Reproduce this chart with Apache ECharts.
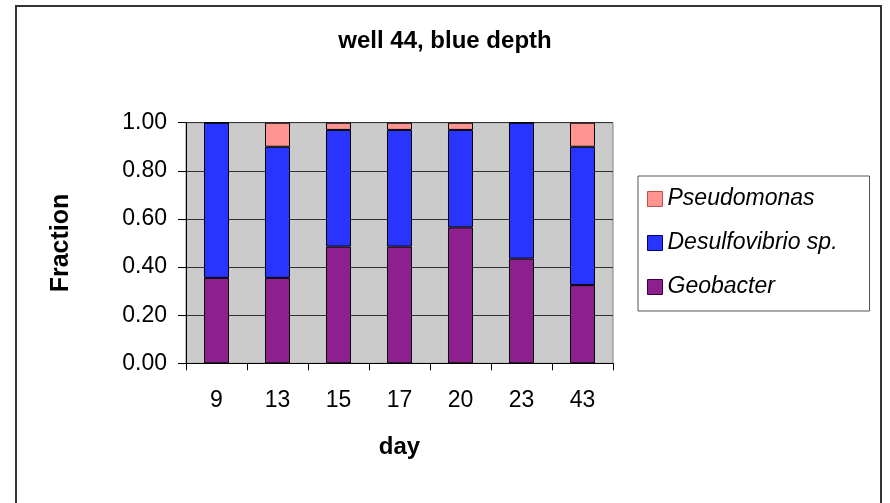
<!DOCTYPE html>
<html>
<head>
<meta charset="utf-8">
<script src="https://cdn.jsdelivr.net/npm/echarts@6/dist/echarts.min.js"></script>
<style>
html,body{margin:0;padding:0;background:#fff;}
#chart{width:890px;height:503px;}
</style>
</head>
<body>
<div id="chart"></div>
<script>
var days = ['9', '13', '15', '17', '20', '23', '43'];
var geobacter = [0.355, 0.355, 0.485, 0.485, 0.565, 0.435, 0.325];
var desulfovibrio = [0.645, 0.545, 0.485, 0.485, 0.405, 0.565, 0.575];
var pseudomonas = [0, 0.10, 0.03, 0.03, 0.03, 0, 0.10];
var yTicks = [0, 0.2, 0.4, 0.6, 0.8, 1.0];

var FONT = "'Liberation Sans', Arial, sans-serif";
var chart = echarts.init(document.getElementById('chart'));

var option = {
  animation: false,
  backgroundColor: '#ffffff',
  title: {
    text: 'well 44, blue depth',
    left: 'center',
    top: 29,
    padding: 0,
    textStyle: { fontFamily: FONT, fontSize: 24, fontWeight: 'bold', color: '#000' }
  },
  graphic: [{
    type: 'rect',
    shape: { x: 16, y: 6, width: 865, height: 540 },
    style: { fill: null, stroke: '#333', lineWidth: 2 },
    silent: true,
    z: 100
  }],
  legend: {
    orient: 'vertical',
    left: 638,
    top: 176,
    padding: [11, 32, 12, 9],
    icon: 'rect',
    itemWidth: 15,
    itemHeight: 15,
    itemGap: 20,
    borderColor: '#555',
    borderWidth: 1,
    backgroundColor: '#fff',
    textStyle: { fontFamily: FONT, fontSize: 23, fontStyle: 'italic', color: '#000', lineHeight: 24 },
    data: [
      { name: 'Pseudomonas', itemStyle: { borderColor: '#c0504d', borderWidth: 1 } },
      { name: 'Desulfovibrio sp.', itemStyle: { borderColor: '#000080', borderWidth: 1 } },
      { name: 'Geobacter', itemStyle: { borderColor: '#3a0040', borderWidth: 1 } }
    ]
  },
  grid: {
    left: 186, right: 277, top: 122.7, bottom: 139.7,
    show: true, backgroundColor: '#cbcbcb', borderColor: '#808080', borderWidth: 1
  },
  xAxis: {
    type: 'category',
    data: days,
    name: 'day',
    nameLocation: 'middle',
    nameGap: 72,
    nameTextStyle: { fontFamily: FONT, fontSize: 24, fontWeight: 'bold', color: '#000', verticalAlign: 'top' },
    axisLine: { lineStyle: { color: '#000', width: 1 } },
    axisTick: { show: true, length: 7, lineStyle: { color: '#000' } },
    axisLabel: { fontFamily: FONT, fontSize: 23, color: '#000', margin: 26 }
  },
  yAxis: {
    type: 'value',
    min: 0, max: 1, interval: 0.2,
    name: 'Fraction',
    nameLocation: 'middle',
    nameGap: 112,
    nameRotate: 90,
    nameTextStyle: { fontFamily: FONT, fontSize: 25, fontWeight: 'bold', color: '#000' },
    axisLine: { show: true, lineStyle: { color: '#000', width: 1 } },
    axisTick: { show: true, length: 8, lineStyle: { color: '#000' } },
    axisLabel: {
      fontFamily: FONT, fontSize: 23, color: '#000', margin: 19,
      formatter: function (v) {
        for (var i = 0; i < yTicks.length; i++) { if (Math.abs(yTicks[i] - v) < 1e-9) return yTicks[i].toFixed(2); }
        return v.toFixed(2);
      }
    },
    splitLine: { show: true, lineStyle: { color: '#333', width: 1 } }
  },
  series: [
    {
      name: 'Geobacter', type: 'bar', stack: 'total', data: geobacter, barWidth: '41%',
      itemStyle: { color: '#8e1f8f', borderColor: '#000', borderWidth: 1 }
    },
    {
      name: 'Desulfovibrio sp.', type: 'bar', stack: 'total', data: desulfovibrio, barWidth: '41%',
      itemStyle: { color: '#2934ff', borderColor: '#000', borderWidth: 1 }
    },
    {
      name: 'Pseudomonas', type: 'bar', stack: 'total', data: pseudomonas, barWidth: '41%',
      itemStyle: { color: '#ff9490', borderColor: '#000', borderWidth: 1 }
    }
  ]
};
chart.setOption(option);
</script>
</body>
</html>
